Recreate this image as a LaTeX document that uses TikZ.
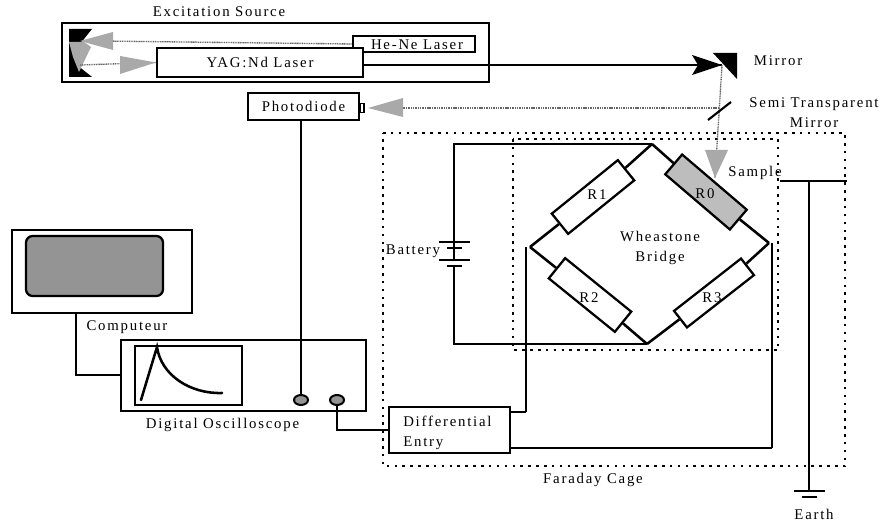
\documentclass[tikz,border=0pt]{standalone}
\usepackage{fontspec}
\usetikzlibrary{shapes.geometric}
\setmainfont[LetterSpace=12]{Liberation Serif}
\definecolor{dither}{gray}{0.58}
\definecolor{ditherl}{gray}{0.74}
\tikzset{
  wire/.style={line width=1.9pt,black},
  thinwire/.style={line width=1.6pt,black},
  boxn/.style={draw,line width=1.9pt,fill=white,inner sep=0pt,align=center,font=\fontsize{11.1}{15}\selectfont},
  res/.style={draw,line width=1.7pt,fill=white,inner sep=0pt,minimum width=85*0.75pt,minimum height=26*0.75pt},
  txt/.style={inner sep=0pt,align=center,font=\fontsize{11.1}{15}\selectfont},
  cage/.style={line width=1.9pt,dash pattern=on 1.9pt off 4pt},
  beam/.style={line width=1pt,color=black!60,dash pattern=on 0.8pt off 0.5pt},
  beamhead/.style={fill=dither!80,draw=none},
}
\begin{document}
\begin{tikzpicture}[x=0.75pt,y=-0.75pt]
\useasboundingbox (0,0) rectangle (885,524);
% coordinates
\coordinate (top) at (652,144);
\coordinate (left) at (530,247);
\coordinate (right) at (769,243);
\coordinate (bot) at (647,344);
\coordinate (batTL) at (454,144);
\coordinate (batBL) at (454,344);
\coordinate (mirrortip) at (722,65);
\coordinate (semi) at (719,108);
\coordinate (sampletip) at (715,178);
\coordinate (sampleL) at (780,181);
\coordinate (sampleR) at (847,181);
\coordinate (sampleJ) at (809,181);
\coordinate (gnd) at (809,491);
\coordinate (wL) at (526,247);
\coordinate (wR) at (772,243);
% Faraday cage and bridge enclosure
\draw[cage] (383,133) -- (845,133) -- (845,466) -- (383,466) -- cycle;
\draw[cage] (513,139) rectangle (778,350);
% Excitation source
\node[boxn,minimum width=427*0.75pt,minimum height=59*0.75pt] (src) at (275.5,52.5) {};
\node[boxn,minimum width=122*0.75pt,minimum height=16*0.75pt] (hene) at (414,44) {};
\node[txt] at (417,45) {He-Ne Laser};
\node[boxn,minimum width=206*0.75pt,minimum height=29*0.75pt] (yag) at (260,62.5) {YAG:Nd Laser};
\fill (69,29) -- (92,29) -- (80,44) -- (77,65) -- (92,77) -- (69,77) -- cycle;
\draw[beam] (hene.west) -- (100,41);
\fill[beamhead] (80,41) -- (113,32) -- (113,50) -- cycle;
\fill[beamhead] (69,42) -- (84,42) -- (91,47) -- (79,72) -- (73,57) -- cycle;
\draw[beam] (yag.west) -- (80,65);
\fill[beamhead] (yag.west) -- (120,56) -- (120,74) -- cycle;
\node[txt] (exc) at (219,12) {Excitation Source};
% Mirror
\fill (713,53) -- (737,53) -- (737,79) -- cycle;
\draw[wire] (yag.east |- 0,65) -- (mirrortip);
\fill (692,55) -- (mirrortip) -- (692,75) -- (698,65) -- cycle;
\node[txt] (lm) at (778,61) {Mirror};
% Semi mirror and beams
\draw[beam] (mirrortip) -- (sampletip);
\draw[beam] (semi) -- (380,108);
\draw[line width=1.6pt] (708,120) -- (731,102);
\node[txt] (lsm) at (814,112.5) {Semi Transparent\\Mirror};
% Photodiode
\node[boxn,minimum width=111*0.75pt,minimum height=27*0.75pt] (pd) at (303.5,106.5) {Photodiode};
\node[draw,line width=1.4pt,fill=white,inner sep=0pt,minimum width=4*0.75pt,minimum height=9*0.75pt] (pdw) at (362,108) {};
\fill[beamhead] (pdw.east) ++(3,0) -- (403,98) -- (403,117) -- cycle;
% Computer
\node[boxn,minimum width=180*0.75pt,minimum height=83*0.75pt] (comp) at (102,271.5) {};
\node[draw,line width=1.7pt,fill=dither,rounded corners=5pt,inner sep=0pt,minimum width=137*0.75pt,minimum height=60*0.75pt] (scr) at (94.5,266) {};
\node[txt] (lc) at (127,327) {Computeur};
% Oscilloscope
\node[boxn,minimum width=245*0.75pt,minimum height=71*0.75pt] (osc) at (243.5,375.5) {};
\node[draw,line width=1.7pt,fill=white,inner sep=0pt,minimum width=107*0.75pt,minimum height=59*0.75pt] (oscr) at (188.5,375.5) {};
\coordinate (peak) at (157,347);
\draw[wire,line cap=round] (141,400) -- (peak) .. controls (161,375) and (190,394) .. (222,393);
\node[draw,line width=1.5pt,fill=dither,ellipse,inner sep=0pt,minimum width=14*0.75pt,minimum height=10*0.75pt] (k1) at (301,400) {};
\node[draw,line width=1.5pt,fill=dither,ellipse,inner sep=0pt,minimum width=14*0.75pt,minimum height=10*0.75pt] (k2) at (337,400) {};
\node[txt] (lo) at (222.5,425) {Digital Oscilloscope};
% Differential box
\node[boxn,minimum width=121*0.75pt,minimum height=46*0.75pt] (diff) at (449.5,430) {};
\node[txt,align=left,anchor=west] (ldiff) at (403,432.5) {Differential\\Entry};
% Connections
\draw[wire] (pd.south -| k1) -- (k1);
\draw[wire] (comp.south -| 76,0) -- (76,375) -- (osc.west |- 0,375);
\draw[thinwire] (k2) -- (337,430) -- (diff.west);
\draw[thinwire] (diff.east |- 0,412) -- (526,412);
\draw[wire] (526,412) -- (wL);
\draw[thinwire] (diff.east |- 0,448) -- (772,448);
\draw[wire] (772,448) -- (wR);
% Bridge
\node[res] (r1) at (593,197) [rotate=39] {};
\node[res,fill=ditherl] (r0) at (706,192) [rotate=-40.5] {};
\node[res] (r2) at (590,295) [rotate=-39] {};
\node[res,minimum height=21*0.75pt] (r3) at (714,293) [rotate=38] {};
\draw[wire] (top) -- (r1); \draw[wire] (left) -- (r1);
\draw[wire] (top) -- (r0); \draw[wire] (right) -- (r0);
\draw[wire] (left) -- (r2); \draw[wire] (bot) -- (r2);
\draw[wire] (right) -- (r3); \draw[wire] (bot) -- (r3);
\fill[beamhead] (705,150) -- (728,150) -- (sampletip) -- cycle;
\node[txt] (t1) at (597,195) {R1};
\node[txt] (t0) at (705,194) {R0};
\node[txt] (t2) at (589,298) {R2};
\node[txt] (t3) at (712,298) {R3};
\node[txt] (tw) at (660,248) {Wheastone\\Bridge};
\node[txt] (ls) at (755,173) {Sample};
% Battery
\draw[wire] (top) -- (batTL) -- (454,242);
\draw[wire] (454,242) -- (454,260);
\draw[wire] (454,266) -- (batBL) -- (bot);
\draw[wire] (439,242) -- (470,242);
\draw[wire] (447,248) -- (462,248);
\draw[wire] (439,260) -- (470,260);
\draw[wire] (447,266) -- (462,266);
\node[txt,anchor=east,inner sep=0.5pt] (lb) at (441,251) {Battery};
% Sample wire and earth
\draw[wire] (sampleL) -- (sampleR);
\draw[wire] (sampleJ) -- (gnd);
\draw[wire] (794,491) -- (825,491);
\draw[wire] (802,497) -- (817,497);
\node[txt] (le) at (814,514) {Earth};
\node[txt] (lf) at (593,480) {Faraday Cage};
\end{tikzpicture}
\end{document}
